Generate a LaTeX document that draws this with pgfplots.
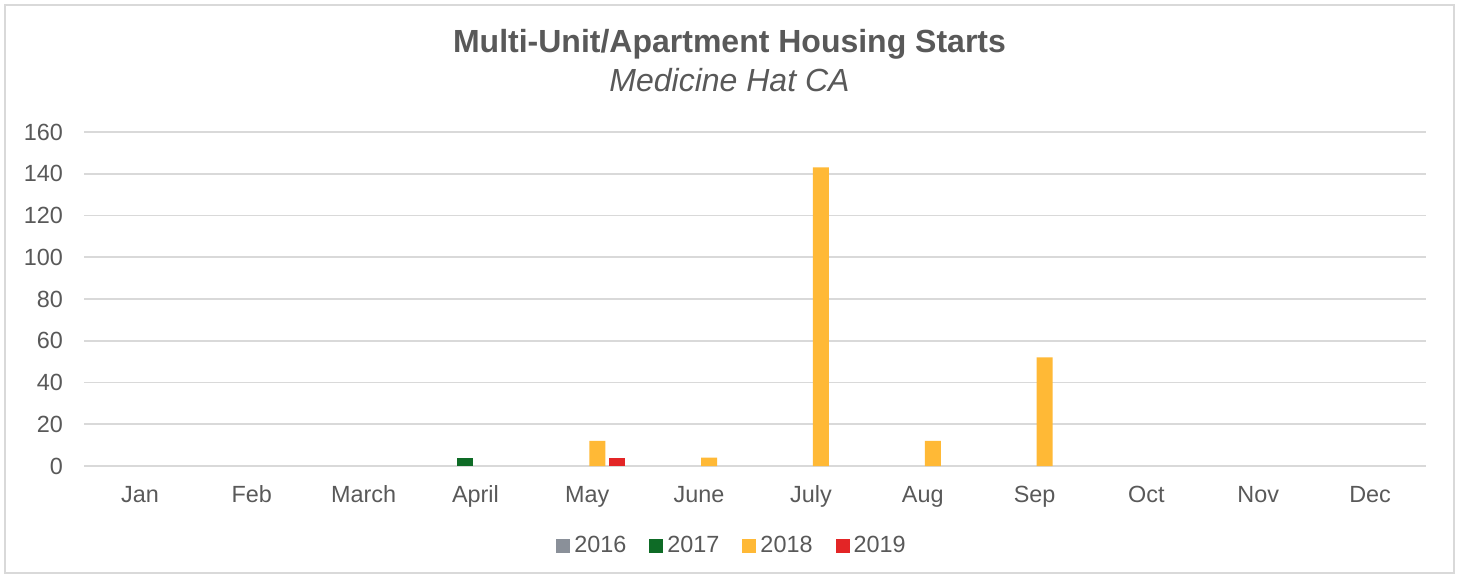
\documentclass[border=0pt]{standalone}
\usepackage{fontspec}
\setmainfont{Liberation Sans}
\usepackage{pgfplots}
\pgfplotsset{compat=1.18}
\definecolor{s2016}{HTML}{8A9099}
\definecolor{s2017}{HTML}{0E6B26}
\definecolor{s2018}{HTML}{FFB936}
\definecolor{s2019}{HTML}{E32526}
\definecolor{gridgray}{HTML}{D9D9D9}
\definecolor{textgray}{HTML}{595959}

\begin{document}
\begin{tikzpicture}
\fill[white] (0pt,0pt) rectangle (729.5pt,289pt);
\draw[gridgray, line width=0.6pt] (2.5pt,2.5pt) rectangle (727pt,286.5pt);
\node[font=\fontsize{16}{19}\selectfont\bfseries, text=textgray] at (364.75pt,267pt) {Multi-Unit/Apartment Housing Starts};
\node[font=\fontsize{16}{19}\selectfont\itshape, text=textgray] at (364.75pt,249pt) {Medicine Hat CA};
\begin{axis}[
    at={(42pt,56pt)}, anchor=south west,
    scale only axis, width=671pt, height=167pt,
    ybar, bar width=8pt,
    xmin=-0.5, xmax=11.5,
    xtick={0,...,11},
    xticklabels={Jan,Feb,March,April,May,June,July,Aug,Sep,Oct,Nov,Dec},
    ymin=0, ymax=160,
    ytick={0,20,...,160},
    axis line style={draw=none},
    major tick length=0pt,
    ymajorgrids=true,
    grid style={gridgray, line width=0.8pt},
    tick label style={font=\fontsize{11.7}{14}\selectfont, text=textgray},
    /pgf/number format/assume math mode=true,
    xticklabel style={anchor=base, yshift=-18pt},
    yticklabel style={anchor=east, xshift=-7pt},
    every axis plot/.append style={draw=none},
    legend style={
        at={(0.4836,-0.2395)}, anchor=center,
        legend columns=-1, draw=none, fill=none,
        font=\fontsize{11.7}{14}\selectfont, text=textgray,
        /tikz/every even column/.append style={column sep=9.5pt},
        /tikz/every odd column/.append style={column sep=0pt},
    },
    legend image code/.code={\fill[#1] (0pt,-3.5pt) rectangle (7pt,3.5pt);},
]
% 2016: all months zero, shown in the legend only
\addlegendimage{fill=s2016}
\addlegendentry{2016}
\addplot[fill=s2017, bar shift=-5pt] coordinates {(3,4)};
\addlegendentry{2017}
\addplot[fill=s2018, bar shift=5pt] coordinates {(4,12) (5,4) (6,143) (7,12) (8,52)};
\addlegendentry{2018}
\addplot[fill=s2019, bar shift=15pt] coordinates {(4,4)};
\addlegendentry{2019}
\end{axis}
\end{tikzpicture}
\end{document}
